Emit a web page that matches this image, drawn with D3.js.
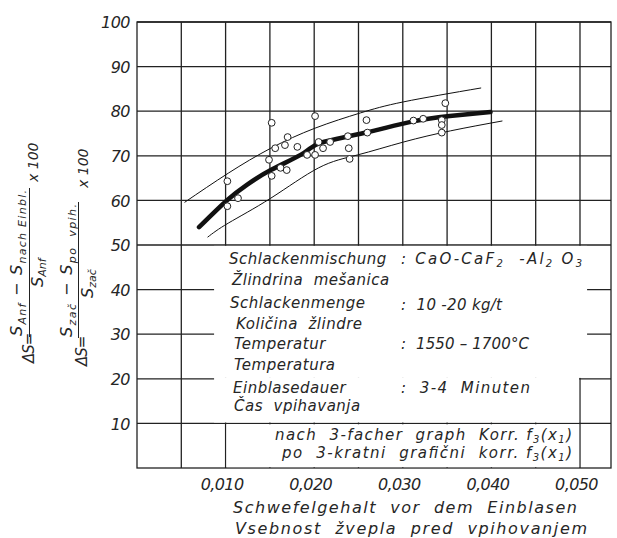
<!DOCTYPE html>
<html>
<head>
<meta charset="utf-8">
<script src="https://cdn.jsdelivr.net/npm/d3@7"></script>
<style>
  body { margin: 0; background: #fff; }
  svg { display: block; }
  text { font-family: "DejaVu Sans", sans-serif; font-style: italic; fill: #262626; white-space: pre; }
</style>
</head>
<body>
<div id="chart"></div>
<script>
// Data
const sulphurContent = [0.0152, 0.0201, 0.0170, 0.0167, 0.0156, 0.0181, 0.0205, 0.0210, 0.0192, 0.0201,
  0.0149, 0.0162, 0.0169, 0.0152, 0.0102, 0.0114, 0.0102, 0.0218, 0.0238, 0.0239,
  0.0240, 0.0259, 0.0260, 0.0312, 0.0323, 0.0348, 0.0344, 0.0344, 0.0344]
const desulphurisation = [77.4, 78.9, 74.2, 72.4, 71.7, 72.0, 73.1, 71.7, 70.2, 70.2,
  69.1, 67.3, 66.8, 65.5, 64.3, 60.5, 58.7, 73.1, 74.4, 71.7,
  69.3, 78.0, 75.2, 77.9, 78.3, 81.8, 78.0, 76.9, 75.2]

const meanX = [0.0070, 0.0102, 0.0124, 0.0151, 0.0188, 0.0207, 0.0256, 0.0309, 0.0353, 0.0399]
const meanY = [54.0, 60.1, 63.5, 66.8, 70.6, 72.9, 75.1, 77.6, 78.9, 79.8]
const upperX = [0.0054, 0.0103, 0.0151, 0.0201, 0.0252, 0.0301, 0.0388]
const upperY = [59.6, 66.1, 71.7, 76.2, 79.6, 82.1, 85.2]
const lowerX = [0.0080, 0.0103, 0.0151, 0.0205, 0.0249, 0.0301, 0.0354, 0.0412]
const lowerY = [51.8, 54.9, 60.5, 67.3, 70.2, 73.1, 75.6, 77.8]

const yTicks = [10, 20, 30, 40, 50, 60, 70, 80, 90, 100]
const xTicks = [0.010, 0.020, 0.030, 0.040, 0.050]

// conditions box: [label, value]  (value parts: [text, subscript?])
const conditions = [
  ['Schlackenmischung', [[': CaO-CaF', false], ['2', true], ['  -Al', false], ['2', true], [' O', false], ['3', true]]],
  ['Žlindrina  mešanica', null],
  ['Schlackenmenge', [[':  10 -20 kg/t', false]]],
  ['Količina  žlindre', null],
  ['Temperatur', [[':  1550 – 1700°C', false]]],
  ['Temperatura', null],
  ['Einblasedauer', [[':  3-4  Minuten', false]]],
  ['Čas  vpihavanja', null],
]
const correction = [
  [['nach  3-facher  graph  Korr. f', false], ['3', true], ['(x', false], ['1', true], [')', false]],
  [['po  3-kratni  grafični  korr. f', false], ['3', true], ['(x', false], ['1', true], [')', false]],
]
const xTitle = ['Schwefelgehalt  vor  dem  Einblasen', 'Vsebnost  žvepla  pred  vpihovanjem']

function draw() {
  const dimensions = { width: 617, height: 538, left: 137, right: 611, top: 22, bottom: 468 }
  const ink = '#222'
  const condensed = '"DejaVu Sans Condensed", "DejaVu Sans", sans-serif'

  const svg = d3.select('#chart')
    .append('svg')
    .attr('width', dimensions.width)
    .attr('height', dimensions.height)
    .attr('viewBox', `0 0 ${dimensions.width} ${dimensions.height}`)

  // Scales
  const xScale = d3.scaleLinear()
    .domain([0, 0.0535])
    .range([dimensions.left, dimensions.right])

  const yScale = d3.scaleLinear()
    .domain([0, 100])
    .range([dimensions.bottom, dimensions.top])

  // Grid
  const grid = svg.append('g').attr('stroke', ink).attr('stroke-width', 1.3)

  grid.selectAll('.vgrid')
    .data(xScale.ticks(10).filter(d => d > 0))
    .join('line')
    .attr('x1', d => xScale(d)).attr('x2', d => xScale(d))
    .attr('y1', yScale(0)).attr('y2', yScale(100))

  grid.selectAll('.hgrid')
    .data(yTicks)
    .join('line')
    .attr('x1', xScale(0)).attr('x2', xScale(0.0535))
    .attr('y1', d => yScale(d)).attr('y2', d => yScale(d))

  grid.append('rect')
    .attr('x', xScale(0)).attr('y', yScale(100))
    .attr('width', xScale(0.0535) - xScale(0))
    .attr('height', yScale(0) - yScale(100))
    .attr('fill', 'none')

  // White panels for the legend text
  const masks = [
    [0.0087, 0.0508, 20.2, 49.8],
    [0.0087, 0.0499, 10.2, 20.2],
    [0.0101, 0.0499, 0.2, 9.8],
  ]
  svg.append('g')
    .selectAll('rect')
    .data(masks)
    .join('rect')
    .attr('x', d => xScale(d[0]))
    .attr('y', d => yScale(d[3]))
    .attr('width', d => xScale(d[1]) - xScale(d[0]))
    .attr('height', d => yScale(d[2]) - yScale(d[3]))
    .attr('fill', '#fff')

  // Curves
  const line = d3.line()
    .x(d => xScale(d[0]))
    .y(d => yScale(d[1]))
    .curve(d3.curveNatural)

  const bands = [
    { x: upperX, y: upperY, w: 1 },
    { x: lowerX, y: lowerY, w: 1 },
    { x: meanX, y: meanY, w: 4.5 },
  ]
  svg.append('g')
    .selectAll('path')
    .data(bands)
    .join('path')
    .attr('d', d => line(d3.zip(d.x, d.y)))
    .attr('fill', 'none')
    .attr('stroke', '#111')
    .attr('stroke-width', d => d.w)
    .attr('stroke-linecap', 'round')

  // Measured points
  svg.append('g')
    .selectAll('circle')
    .data(d3.zip(sulphurContent, desulphurisation))
    .join('circle')
    .attr('cx', d => xScale(d[0]))
    .attr('cy', d => yScale(d[1]))
    .attr('r', 3.4)
    .attr('fill', '#fff')
    .attr('stroke', ink)
    .attr('stroke-width', 1)

  // Axes
  const yAxis = d3.axisLeft(yScale)
    .tickValues(yTicks)
    .tickSize(0)
    .tickPadding(7)

  svg.append('g')
    .attr('transform', `translate(${dimensions.left}, 0)`)
    .call(yAxis)
    .call(g => g.select('.domain').remove())
    .selectAll('text')
    .attr('font-family', condensed)
    .attr('font-size', 16)
    .attr('letter-spacing', -0.5)
    .attr('dy', '0.36em')

  const xAxis = d3.axisBottom(xScale)
    .tickValues(xTicks)
    .tickSize(0)
    .tickFormat(d => d3.format('.3f')(d).replace('.', ','))

  svg.append('g')
    .attr('transform', `translate(0, ${dimensions.bottom})`)
    .call(xAxis)
    .call(g => g.select('.domain').remove())
    .selectAll('text')
    .attr('font-family', condensed)
    .attr('font-size', 16)
    .attr('letter-spacing', -0.6)
    .attr('y', 22)
    .attr('dy', 0)
    .attr('dx', -4)

  // Rich text helper: parts = [[text, isSub], ...]
  function rich(sel, parts, size, subSize, drop) {
    let down = false
    parts.forEach(([t, sub]) => {
      const ts = sel.append('tspan').text(t).attr('font-size', sub ? subSize : size)
      if (sub && !down) { ts.attr('dy', drop); down = true }
      else if (!sub && down) { ts.attr('dy', -drop); down = false }
    })
    return sel
  }

  // Conditions box
  const baselines = [264, 285, 308, 329, 349, 370, 393, 411]
  const indents = [229, 232, 230, 236, 234, 234, 233, 234]
  const valueEnd = [582, 0, 502, 0, 529, 0, 530, 0]
  const box = svg.append('g')
  conditions.forEach(([label, value], i) => {
    box.append('text')
      .attr('x', indents[i]).attr('y', baselines[i])
      .attr('font-size', 15)
      .attr('letter-spacing', 0.5)
      .text(label)
    if (value) {
      rich(box.append('text')
        .attr('x', 401).attr('y', baselines[i] + (i === 2 ? 2 : 0))
        .attr('textLength', valueEnd[i] - 401).attr('lengthAdjust', 'spacing'),
        value, 15, 10, 3)
    }
  })

  const corrX = [275, 282]
  const corrY = [440, 458]
  correction.forEach((parts, i) => {
    rich(box.append('text').attr('x', corrX[i]).attr('y', corrY[i])
      .attr('textLength', 572 - corrX[i]).attr('lengthAdjust', 'spacing'), parts, 15, 10, 3)
  })

  // X axis title
  const titleX = [233, 235]
  const titleEnd = [577, 587]
  const titleY = [513, 534]
  xTitle.forEach((t, i) => {
    svg.append('text')
      .attr('x', titleX[i]).attr('y', titleY[i])
      .attr('font-size', 16)
      .attr('textLength', titleEnd[i] - titleX[i])
      .attr('lengthAdjust', 'spacing')
      .text(t)
  })

  // Y axis formulas (rotated; local x = -screenY, local y = screenX)
  const formulas = [
    { lead: 363, leadY: 34, numX: 336, numY: 22, barY: 29.5, barEnd: 188, denX: 287, denY: 43, facX: 182, facY: 38,
      num: [['S', false], ['Anf', true], [' − S', false], ['nach Einbl.', true]], den: [['S', false], ['Anf', true]] },
    { lead: 366, leadY: 87, numX: 337, numY: 72, barY: 78.5, barEnd: 202, denX: 298, denY: 93, facX: 188, facY: 88,
      num: [['S', false], ['zač', true], [' − S', false], ['po  vpih.', true]], den: [['S', false], ['zač', true]] },
  ]
  formulas.forEach(f => {
    const g = svg.append('g').attr('transform', 'rotate(-90)')
    g.append('text').attr('x', -f.lead).attr('y', f.leadY)
      .attr('font-family', condensed).attr('font-size', 15).attr('letter-spacing', -1).text('ΔS=')
    rich(g.append('text').attr('x', -f.numX).attr('y', f.numY).attr('font-family', condensed)
      .attr('textLength', f.numX - f.barEnd - 2).attr('lengthAdjust', 'spacing'), f.num, 16, 11, 4)
    g.append('line')
      .attr('x1', -f.numX - 1).attr('x2', -f.barEnd)
      .attr('y1', f.barY).attr('y2', f.barY)
      .attr('stroke', ink).attr('stroke-width', 1)
    rich(g.append('text').attr('x', -f.denX).attr('y', f.denY).attr('font-family', condensed), f.den, 16, 11, 3)
    g.append('text').attr('x', -f.facX).attr('y', f.facY)
      .attr('font-family', condensed).attr('font-size', 14).text('x 100')
  })
}

draw()
</script>
</body>
</html>
